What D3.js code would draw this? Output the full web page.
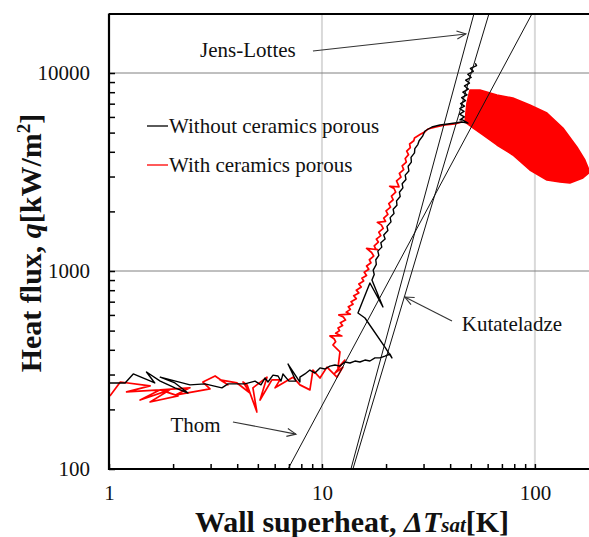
<!DOCTYPE html>
<html><head><meta charset="utf-8">
<script src="https://cdn.jsdelivr.net/npm/d3@7"></script>
<style>
html,body{margin:0;padding:0;background:#fff;}
svg{display:block;}
text{font-family:"Liberation Serif","Times New Roman",serif;fill:#111;}
</style></head>
<body>
<script>
// ---- data (ΔT_sat [K], q [kW/m²]) ----
const seriesNames = ["Without ceramics porous", "With ceramics porous"];
const xTicksMajor = [1, 10, 100];
const yTicksMajor = [100, 1000, 10000];

const blackData = [
 [1.01,272],[1.19,272],[1.30,302],[1.48,285],[1.64,272],[1.50,309],[1.74,278],[2.04,257],[2.35,242],[2.04,272],
 [1.74,291],[2.40,266],[2.82,269],[3.39,257],[3.62,269],[4.35,269],[4.85,278],[5.17,266],[5.40,288],[5.58,275],
 [5.89,298],[6.22,295],[6.42,278],[6.56,302],[7.00,278],[7.55,278],[6.93,339],[7.88,275],[7.88,291],[8.32,302],
 [8.78,316],[9.27,305],[9.79,324],[10.33,320],[10.90,331],[11.51,335],[12.15,331],[12.82,347],[13.54,343],[14.29,351],
 [15.08,347],[15.92,355],[16.80,351],[17.74,364],[18.72,364],[19.76,372],[20.86,381],[21.31,364],[19.76,413],[15.92,579],
 [14.76,614],[15.41,689],[16.09,774],[16.80,870],[19.34,658],[17.17,900],[17.6,960],[17.4,1010],[18.0,1080],[17.9,1140],
 [18.5,1200],[18.3,1260],[19.1,1320],[18.9,1390],[19.8,1450],[19.5,1520],[20.4,1600],[20.2,1680],[21.1,1770],[20.9,1860],
 [21.8,1950],[21.6,2050],[22.5,2150],[22.4,2260],[23.3,2380],[23.1,2500],[24.0,2630],[23.8,2760],[24.8,2900],[24.6,3050],
 [25.6,3200],[25.4,3380],[26.3,3550],[26.2,3750],[27.2,3950],[27.3,4150],[28.2,4350],[28.6,4550],[29.7,4800],[30.45,5094],
 [32.84,5338],[35.81,5462],[39.04,5525],[42.11,5590],[45.43,5655],[48.47,5590],[45.9,5790],
 [44.5,5800],[46.6,6000],[44.3,6200],[46.5,6400],[44.4,6600],[46.7,6800],[44.8,7000],[47.2,7250],[45.3,7500],[48.0,7750],
 [45.9,8000],[48.7,8300],[46.7,8600],[49.3,8900],[47.3,9200],[50.2,9500],[48.4,9850],[51.4,10200],[49.8,10550],[53.2,10900],
 [52.5,11200]
];

const redData = [
 [1.01,234],[1.13,275],[1.56,263],[1.21,245],[1.74,251],[1.40,223],[1.93,251],[1.56,218],[2.11,234],[1.74,251],
 [2.40,257],[2.04,236],[2.98,254],[2.76,275],[3.15,295],[3.62,266],[3.32,282],[3.99,272],[4.59,242],[4.26,275],
 [4.45,266],[4.95,194],[4.74,257],[5.52,291],[5.12,223],[5.82,282],[6.35,282],[6.02,257],[7.31,291],[7.88,266],
 [8.78,251],[9.07,316],[9.79,288],[10.56,327],[11.76,291],[12.55,327],[11.51,305],[12.82,355],[11.89,324],[12.15,390],
 [11.26,423],[11.6,440],[11.4,455],[10.9,470],[12.4,470],[11.6,485],[12.1,500],[11.9,515],[12.5,530],[12.2,548],
 [12.9,565],[12.6,585],[12.0,600],[13.6,605],[13.0,620],[13.6,640],[13.3,660],[14.0,680],[13.7,700],[14.5,725],
 [14.1,750],[14.9,775],[14.5,800],[15.3,830],[14.9,860],[15.7,890],[15.4,920],[16.2,950],[15.8,985],[16.6,1020],
 [16.2,1060],[17.0,1100],[16.7,1140],[17.5,1190],[17.1,1240],[16.2,1300],[18.3,1280],[17.9,1290],[17.6,1340],[18.4,1400],
 [18.0,1450],[18.9,1510],[18.5,1570],[19.4,1640],[19.0,1710],[18.2,1760],[19.9,1780],[19.5,1850],[20.4,1930],[20.0,2010],
 [21.0,2100],[20.6,2190],[21.6,2290],[21.2,2390],[22.2,2500],[21.8,2610],[20.8,2680],[23.0,2660],[22.8,2730],[22.4,2850],
 [23.5,2980],[23.1,3110],[24.2,3250],[23.8,3400],[24.9,3550],[24.6,3700],[25.5,3870],[25.0,4030],[26.0,4200],[25.8,4380],
 [27.0,4550],[27.2,4700],[29.0,4900],[30.5,5050],[31.45,5214],[34.29,5338],[37.81,5462],[42.11,5525],[45.43,5655]
];

// dense oscillating red region (outline of the overlapped cycles)
const redBlobUpper = [[46.93,5655],[47.96,7060],[49.53,8210],[55.19,8210],[66.3,7740],[78.8,7480],[94.7,6890],
 [113.9,6280],[135.4,5276],[157.5,4229],[171.7,3637],[181.2,3162]];
const redBlobLower = [[168.0,2950],[146.0,2782],[131.1,2816],[113.9,2882],[94.7,3236],[78.8,3854],
 [66.3,4329],[57.01,4864],[51.17,5276],[46.93,5655]];

// correlations (end points)
const thomLine = [[6.93,100],[96.8,19860]];
const jensLottesLine = [[13.68,100],[51.7,19860]];
const kutateladzeLine = [[13.98,100],[60.8,19860]];

const annotations = [
 {label:"Jens-Lottes", at:[4.49,13070], from:[9.07,12910], to:[47.4,15740]},
 {label:"Kutateladze", at:[78.0,540], from:[40.8,559], to:[24.5,739]},
 {label:"Thom", at:[2.55,167], from:[3.82,172.8], to:[7.55,150]}
];

// ---- chart ----
const W = 589, H = 537;
const svg = d3.select("body").append("svg").attr("width", W).attr("height", H);

const x = d3.scaleLog().domain([1, 200]).range([109, 599]);
const y = d3.scaleLog().domain([100, 20000]).range([469, 13.4]);

const defs = svg.append("defs");
defs.append("clipPath").attr("id","clip").append("rect")
  .attr("x",109).attr("y",13.4).attr("width",490).attr("height",469-13.4);
defs.append("marker").attr("id","arrow").attr("viewBox","-10 -5 12 10")
  .attr("refX",0).attr("refY",0).attr("markerWidth",12).attr("markerHeight",10)
  .attr("markerUnits","userSpaceOnUse").attr("orient","auto")
  .append("path").attr("d","M-9,-4 L0,0 L-9,4").attr("fill","none").attr("stroke","#333").attr("stroke-width",1.1);

// grid
const gGrid = svg.append("g");
gGrid.selectAll("line.v").data([10,100]).join("line")
  .attr("x1", d=>x(d)).attr("x2", d=>x(d)).attr("y1", y(20000)).attr("y2", y(100))
  .attr("stroke","#d9d9d9").attr("stroke-width",2);
gGrid.selectAll("line.h").data([1000,10000]).join("line")
  .attr("x1", x(1)).attr("x2", W).attr("y1", d=>y(d)).attr("y2", d=>y(d))
  .attr("stroke","#808080").attr("stroke-width",1);

// axes
const xMinor = [];
[1,10,100].forEach(b=>{for(let i=1;i<10;i++){ if(b*i<=200) xMinor.push(b*i);} });
const yMinor = [];
[100,1000,10000].forEach(b=>{for(let i=1;i<10;i++){ if(b*i<=20000) yMinor.push(b*i);} });

const xAxis = d3.axisBottom(x).tickValues(xMinor).tickSizeInner(-5).tickSizeOuter(0).tickPadding(16)
  .tickFormat(d => xTicksMajor.includes(d) ? String(d) : "");
const gx = svg.append("g").attr("transform","translate(0,469)").call(xAxis);
gx.select(".domain").remove();
gx.selectAll(".tick line").attr("stroke","#000").attr("stroke-width",1.5);
gx.selectAll(".tick text").style("font-size","21px").style("font-family","Liberation Serif").attr("fill","#111");
gx.selectAll(".tick text").filter(d=>!xTicksMajor.includes(d)).remove();

const yAxis = d3.axisLeft(y).tickValues(yMinor).tickSizeInner(-6).tickSizeOuter(0).tickPadding(19)
  .tickFormat(d => yTicksMajor.includes(d) ? String(d) : "");
const gy = svg.append("g").attr("transform","translate(109,0)").call(yAxis);
gy.select(".domain").remove();
gy.selectAll(".tick line").attr("stroke","#000").attr("stroke-width",1.5);
gy.selectAll(".tick text").style("font-size","21px").style("font-family","Liberation Serif").attr("fill","#111");
gy.selectAll(".tick text").filter(d=>!yTicksMajor.includes(d)).remove();

// data
const plot = svg.append("g").attr("clip-path","url(#clip)");
const line = d3.line().x(d=>x(d[0])).y(d=>y(d[1]));

plot.append("path").datum(redBlobUpper.concat(redBlobLower))
  .attr("d", d=>line(d)+"Z").attr("fill","#ff0000").attr("stroke","#ff0000").attr("stroke-width",1.5)
  .attr("stroke-linejoin","round");
plot.append("path").datum(redData).attr("d", line)
  .attr("fill","none").attr("stroke","#ff0000").attr("stroke-width",1.7).attr("stroke-linejoin","round");
plot.append("path").datum(blackData).attr("d", line)
  .attr("fill","none").attr("stroke","#000").attr("stroke-width",1.4).attr("stroke-linejoin","round");

[thomLine, jensLottesLine, kutateladzeLine].forEach(l=>{
  plot.append("path").datum(l).attr("d", line).attr("fill","none").attr("stroke","#111").attr("stroke-width",1);
});

// annotations
annotations.forEach(a=>{
  svg.append("line").attr("x1",x(a.from[0])).attr("y1",y(a.from[1]))
    .attr("x2",x(a.to[0])).attr("y2",y(a.to[1]))
    .attr("stroke","#333").attr("stroke-width",1.1).attr("marker-end","url(#arrow)");
  svg.append("text").attr("x",x(a.at[0])).attr("y",y(a.at[1])).attr("dy","0.35em")
    .attr("text-anchor","middle").style("font-size","21px").text(a.label);
});

// frame
svg.append("line").attr("x1",109).attr("x2",W).attr("y1",y(20000)+0.6).attr("y2",y(20000)+0.6).attr("stroke","#000").attr("stroke-width",2.2);
svg.append("line").attr("x1",109).attr("x2",W).attr("y1",469).attr("y2",469).attr("stroke","#000").attr("stroke-width",2.2);
svg.append("line").attr("x1",109).attr("x2",109).attr("y1",y(20000)).attr("y2",470).attr("stroke","#000").attr("stroke-width",2.2);

// legend
const legend = svg.append("g");
const legColors = ["#000","#ff0000"];
const legY = [126, 165];
seriesNames.forEach((n,i)=>{
  legend.append("line").attr("x1",147).attr("x2",168).attr("y1",legY[i]).attr("y2",legY[i])
    .attr("stroke",legColors[i]).attr("stroke-width",1.3);
  legend.append("text").attr("x",169).attr("y",legY[i]).attr("dy","0.33em").style("font-size","21px").text(n);
});

// axis titles
const xt = svg.append("text").attr("x",352).attr("y",532).attr("text-anchor","middle")
  .style("font-size","30px").style("font-weight","bold");
xt.append("tspan").text("Wall superheat, ");
xt.append("tspan").style("font-style","italic").text("ΔT");
xt.append("tspan").style("font-style","italic").style("font-size","21px").text("sat");
xt.append("tspan").text("[K]");

const yt = svg.append("text").attr("transform","translate(41,243) rotate(-90)").attr("text-anchor","middle")
  .style("font-size","30px").style("font-weight","bold");
yt.append("tspan").text("Heat flux, ");
yt.append("tspan").style("font-style","italic").text("q");
yt.append("tspan").text("[kW/m");
yt.append("tspan").attr("dy","-11").style("font-size","19px").text("2");
yt.append("tspan").attr("dy","11").text("]");
</script>
</body></html>
